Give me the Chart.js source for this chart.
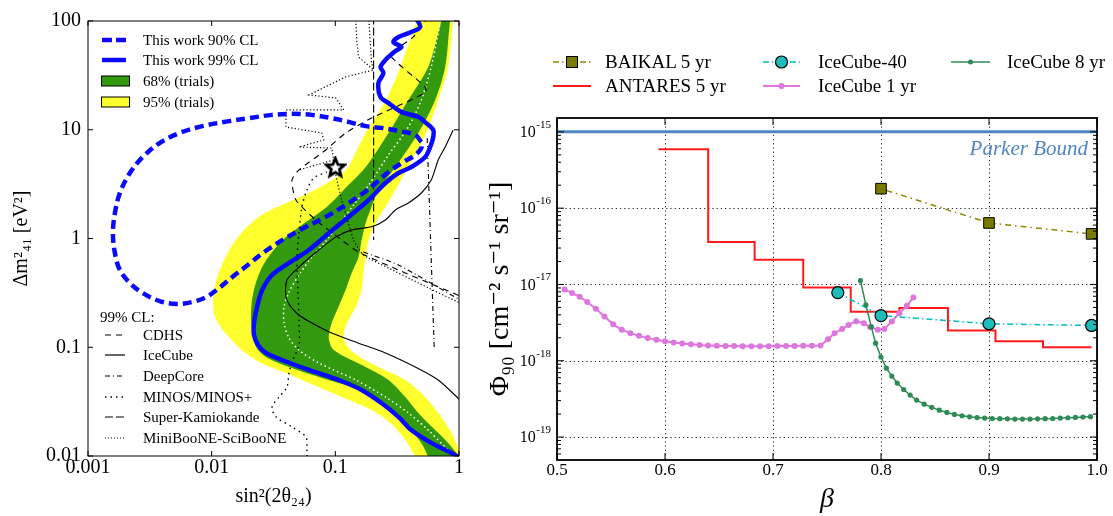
<!DOCTYPE html>
<html>
<head>
<meta charset="utf-8">
<title>Sterile neutrino contours and monopole flux limits</title>
<script src="https://cdn.jsdelivr.net/npm/chart.js@4.4.1/dist/chart.umd.min.js"></script>
<style>
    html, body { margin: 0; padding: 0; background: #fff; }
    #page { position: relative; width: 1113px; height: 516px; overflow: hidden;
            font-family: "Liberation Serif", "DejaVu Serif", serif; color: #000; }
    #page canvas { position: absolute; top: 0; }
    .item { position: absolute; display: flex; align-items: center; white-space: nowrap; }
    .item svg { flex: none; }
    .left-lg { font-size: 15px; height: 20px; }
    .right-lg { font-size: 19px; height: 24px; }
    #parker { position: absolute; right: 25px; top: 134px; font-size: 21px; font-style: italic;
              color: #4f86c6; line-height: 28px; }
</style>
</head>
<body>
<div id="page">
    <canvas id="contours" width="470" height="516" style="left:0"></canvas>
    <canvas id="limits" width="638" height="516" style="left:475px"></canvas>

    <!-- Legenda superior (painel esquerdo) -->
    <div class="item left-lg" style="left:100px; top:30px">
        <svg width="43" height="20"><line x1="2" y1="10" x2="26" y2="10" stroke="#0a0aff" stroke-width="4.5" stroke-dasharray="10 4"/></svg>This work 90% CL
    </div>
    <div class="item left-lg" style="left:100px; top:50px">
        <svg width="43" height="20"><line x1="2" y1="10" x2="26" y2="10" stroke="#0a0aff" stroke-width="4.5"/></svg>This work 99% CL
    </div>
    <div class="item left-lg" style="left:100px; top:71px">
        <svg width="43" height="20"><rect x="1.5" y="5" width="28" height="10" fill="#33990f" stroke="#000" stroke-width="1"/></svg>68% (trials)
    </div>
    <div class="item left-lg" style="left:100px; top:92px">
        <svg width="43" height="20"><rect x="1.5" y="5" width="28" height="10" fill="#ffff2e" stroke="#000" stroke-width="1"/></svg>95% (trials)
    </div>

    <!-- Legenda inferior (99% CL) -->
    <div class="item left-lg" style="left:100px; top:307px">99% CL:</div>
    <div class="item left-lg" style="left:100px; top:325px">
        <svg width="43" height="20"><line x1="5" y1="10" x2="25" y2="10" stroke="#000" stroke-width="1.2" stroke-dasharray="6 5"/></svg>CDHS
    </div>
    <div class="item left-lg" style="left:100px; top:345px">
        <svg width="43" height="20"><line x1="5" y1="10" x2="25" y2="10" stroke="#000" stroke-width="1.2"/></svg>IceCube
    </div>
    <div class="item left-lg" style="left:100px; top:366px">
        <svg width="43" height="20"><line x1="5" y1="10" x2="25" y2="10" stroke="#000" stroke-width="1.2" stroke-dasharray="5 3 1 3"/></svg>DeepCore
    </div>
    <div class="item left-lg" style="left:100px; top:387px">
        <svg width="43" height="20"><line x1="5" y1="10" x2="25" y2="10" stroke="#000" stroke-width="1.3" stroke-dasharray="1.5 4"/></svg>MINOS/MINOS+
    </div>
    <div class="item left-lg" style="left:100px; top:407px">
        <svg width="43" height="20"><line x1="5" y1="10" x2="25" y2="10" stroke="#000" stroke-width="1.2" stroke-dasharray="8 3"/></svg>Super-Kamiokande
    </div>
    <div class="item left-lg" style="left:100px; top:428px">
        <svg width="43" height="20"><line x1="5" y1="10" x2="25" y2="10" stroke="#000" stroke-width="1.2" stroke-dasharray="1 2"/></svg>MiniBooNE-SciBooNE
    </div>

    <!-- Legenda do painel direito -->
    <div class="item right-lg" style="left:553px; top:50px">
        <svg width="52" height="24"><line x1="0" y1="12" x2="38" y2="12" stroke="#8b8b00" stroke-width="1.5" stroke-dasharray="6 3 1.5 3"/><rect x="13.5" y="6.5" width="11" height="11" fill="#7a7a00" stroke="#000" stroke-width="1"/></svg>BAIKAL 5 yr
    </div>
    <div class="item right-lg" style="left:763px; top:50px">
        <svg width="55" height="24"><line x1="0" y1="12" x2="37" y2="12" stroke="#00bfbf" stroke-width="1.5" stroke-dasharray="6 3 1.5 3"/><circle cx="18.5" cy="12" r="6" fill="#1fbcbc" stroke="#000" stroke-width="1.2"/></svg>IceCube-40
    </div>
    <div class="item right-lg" style="left:951px; top:50px">
        <svg width="56" height="24"><line x1="0" y1="12" x2="39" y2="12" stroke="#2e8b57" stroke-width="1.5"/><circle cx="19.5" cy="12" r="2.5" fill="#2e8b57"/></svg>IceCube 8 yr
    </div>
    <div class="item right-lg" style="left:553px; top:74px">
        <svg width="52" height="24"><line x1="0" y1="12" x2="38" y2="12" stroke="#ff1a1a" stroke-width="2"/></svg>ANTARES 5 yr
    </div>
    <div class="item right-lg" style="left:763px; top:74px">
        <svg width="55" height="24"><line x1="0" y1="12" x2="37" y2="12" stroke="#dd77dd" stroke-width="2"/><circle cx="18.5" cy="12" r="3" fill="#dd77dd"/></svg>IceCube 1 yr
    </div>

    <div id="parker">Parker Bound</div>
</div>

<script>
// ---------- Dados: painel esquerdo (sin²2θ24 x Δm²41) ----------
const sinTicks = [0.001, 0.01, 0.1, 1];
const sinTickLabels = ['0.001', '0.01', '0.1', '1'];
const dmTicks = [0.01, 0.1, 1, 10, 100];
const dmTickLabels = ['0.01', '0.1', '1', '10', '100'];

// banda 95% (borda esquerda de baixo p/ cima, depois borda direita de cima p/ baixo)
const yellowX = [0.460, 0.443, 0.368, 0.279, 0.196, 0.1125, 0.0611, 0.0399, 0.0251, 0.0183, 0.0144, 0.0120, 0.0105, 0.0103, 0.0109, 0.0124,
    0.0147, 0.0183, 0.0251, 0.0385, 0.0611, 0.0885, 0.117, 0.133, 0.149, 0.176, 0.223, 0.269, 0.324, 0.389, 0.452, 0.469,
    0.948, 0.897, 0.817, 0.679, 0.543, 0.389, 0.306, 0.254, 0.211, 0.186, 0.176, 0.169, 0.163, 0.146, 0.128, 0.117, 0.121,
    0.141, 0.223, 0.368, 0.533, 0.679, 0.847, 0.948, 1.04, 1.07];
const yellowY = [0.0088, 0.0098, 0.0140, 0.0201, 0.0265, 0.0349, 0.0469, 0.0580, 0.0717, 0.0904, 0.117, 0.150, 0.198, 0.272, 0.415, 0.608,
    0.872, 1.20, 1.64, 2.08, 2.62, 3.31, 4.09, 4.94, 6.51, 9.33, 14.3, 20.9, 33.9, 60.1, 100, 121,
    121, 100, 37.8, 18.8, 9.33, 4.54, 2.79, 1.95, 1.39, 0.968, 0.676, 0.482, 0.336, 0.235, 0.178, 0.135, 0.109,
    0.0886, 0.0658, 0.0500, 0.0349, 0.0249, 0.0173, 0.0132, 0.0100, 0.0088];

// banda 68%
const greenX = [0.585, 0.564, 0.496, 0.389, 0.284, 0.211, 0.1355, 0.0735, 0.0422, 0.0275, 0.0229, 0.0212, 0.0208, 0.0212, 0.0225, 0.0256,
    0.0308, 0.0399, 0.0578, 0.0853, 0.121, 0.176, 0.269, 0.389, 0.564, 0.679, 0.718, 0.731,
    0.880, 0.847, 0.773, 0.642, 0.469, 0.306, 0.223, 0.196, 0.176, 0.163, 0.154, 0.1355, 0.121, 0.106, 0.0935, 0.0885,
    0.097, 0.176, 0.269, 0.368, 0.469, 0.642, 0.817, 0.948, 1.07];
const greenY = [0.0088, 0.0098, 0.0132, 0.0185, 0.0265, 0.0349, 0.0431, 0.0533, 0.0658, 0.0814, 0.1005, 0.144, 0.198, 0.272, 0.374, 0.547,
    0.751, 1.03, 1.42, 1.95, 2.91, 4.54, 9.33, 18.8, 37.8, 77.6, 100, 121,
    121, 100, 37.8, 18.8, 9.33, 4.54, 2.79, 1.95, 1.39, 0.968, 0.676, 0.482, 0.336, 0.235, 0.167, 0.122,
    0.0944, 0.0658, 0.0500, 0.0349, 0.0249, 0.0173, 0.0132, 0.0107, 0.0088];

// mediana (pontilhado branco)
const medianX = [0.984, 0.773, 0.564, 0.389, 0.254, 0.146, 0.0735, 0.0508, 0.0422, 0.0385, 0.0385, 0.0422, 0.0508, 0.0646, 0.0853, 0.1105,
    0.1406, 0.186, 0.269, 0.389, 0.496, 0.596, 0.679, 0.718];
const medianY = [0.0096, 0.0121, 0.0173, 0.0249, 0.0349, 0.0500, 0.0717, 0.0944, 0.1216, 0.167, 0.235, 0.322, 0.462, 0.676, 0.968, 1.42,
    2.03, 3.10, 5.86, 10.6, 18.8, 37.8, 77.6, 109];

// este trabalho 99% CL
const cl99X = [0.443, 0.486, 0.412, 0.324, 0.295, 0.342, 0.306, 0.254, 0.232, 0.245, 0.223, 0.232, 0.269, 0.342, 0.469, 0.543, 0.619,
    0.619, 0.585, 0.533, 0.412, 0.324, 0.254, 0.186, 0.128, 0.0885, 0.0611, 0.0422, 0.0308, 0.0256, 0.0233, 0.0220, 0.0220,
    0.0237, 0.0275, 0.0371, 0.0611, 0.1064, 0.163, 0.236, 0.324, 0.412, 0.596, 0.863, 1.04];
const cl99Y = [109, 88.1, 79.3, 71.3, 64.1, 57.7, 52.9, 43.8, 37.8, 33.2, 26.9, 20.0, 17.6, 14.6, 13.1, 11.5, 9.95,
    8.58, 6.94, 5.61, 4.54, 4.00, 3.24, 2.26, 1.58, 1.12, 0.784, 0.596, 0.462, 0.336, 0.235, 0.167, 0.130,
    0.105, 0.0886, 0.0763, 0.0618, 0.0500, 0.0405, 0.0307, 0.0229, 0.0173, 0.0132, 0.0107, 0.0094];

// este trabalho 90% CL (contorno fechado)
const cl90X = [0.496, 0.443, 0.324, 0.236, 0.176, 0.128, 0.0935, 0.0646, 0.0446, 0.0308, 0.0201, 0.0139, 0.00841, 0.0055, 0.00379,
    0.00277, 0.00218, 0.00181, 0.00165, 0.00159, 0.00165, 0.00181, 0.00218, 0.00277, 0.00379, 0.0052, 0.0070, 0.00907, 0.0115,
    0.0147, 0.0201, 0.0266, 0.0385, 0.0557, 0.0837, 0.121, 0.160, 0.204, 0.269, 0.355, 0.443, 0.496, 0.496];
const cl90Y = [7.71, 8.95, 9.74, 10.4, 10.8, 11.8, 12.8, 13.7, 14.0, 13.7, 12.8, 12.0, 10.8, 9.33, 7.55,
    5.61, 4.00, 2.62, 1.71, 1.12, 0.736, 0.513, 0.390, 0.315, 0.266, 0.250, 0.261, 0.290, 0.351,
    0.443, 0.583, 0.751, 0.989, 1.25, 1.58, 2.03, 2.51, 3.10, 4.09, 5.05, 5.86, 6.79, 7.71];

// outros experimentos (99% CL)
const icecubeX = [0.897, 0.773, 0.679, 0.596, 0.496, 0.389, 0.306, 0.254, 0.196, 0.1355, 0.1007, 0.0735, 0.0508, 0.0406, 0.0399,
    0.0438, 0.0508, 0.0646, 0.0935, 0.154, 0.254, 0.443, 0.679, 1.02];
const icecubeY = [9.95, 6.94, 5.27, 3.45, 2.62, 2.12, 1.83, 1.48, 1.28, 1.20, 1.03, 0.784, 0.547, 0.415, 0.290,
    0.235, 0.198, 0.167, 0.135, 0.109, 0.0886, 0.0658, 0.0500, 0.0327];
const minosX = [0.0589, 0.0589, 0.0578, 0.0446, 0.0331, 0.0308, 0.0351, 0.0406, 0.0422, 0.0454, 0.0508, 0.0508, 0.0498, 0.0489,
    0.0508, 0.0537, 0.0589, 0.0670, 0.0853];
const minosY = [0.0088, 0.0121, 0.0150, 0.0185, 0.0229, 0.0282, 0.0349, 0.0431, 0.0580, 0.0763, 0.105, 0.178, 0.336, 0.634,
    1.12, 1.95, 2.79, 3.60, 4.09];
const minibooneX = [0.146, 0.149, 0.154, 0.204, 0.121, 0.0611, 0.1007, 0.117, 0.0399, 0.0399, 0.0777, 0.0807, 0.0508, 0.0935, 0.097, 0.0508];
const minibooneY = [109, 66.8, 46.7, 35.4, 30.6, 20.9, 19.6, 15.2, 15.2, 10.6, 9.33, 8.05, 6.94, 6.79, 5.27, 4.27];
const miniboone2X = [0.186, 0.196, 0.204];
const miniboone2Y = [109, 42.0, 35.4];
const miniboone3X = [0.1007, 0.1125, 0.1236, 0.1406, 0.169, 0.269, 0.469, 1.02];
const miniboone3Y = [3.83, 2.26, 1.58, 0.968, 0.705, 0.536, 0.390, 0.255];
const cdhsX = [0.564, 0.427, 0.306, 0.284, 0.533, 0.533, 0.196, 0.121, 0.0837, 0.0508, 0.0446, 0.048, 0.0695, 0.1125, 0.154, 0.324, 1.02];
const cdhsY = [109, 71.3, 54.1, 46.7, 24.7, 21.8, 12.8, 9.33, 6.51, 4.27, 3.45, 2.26, 1.48, 0.968, 0.751, 0.513, 0.296];
const superkX = [0.204, 0.204];
const superkY = [110, 0.968];
const deepcoreX = [0.553, 0.631];
const deepcoreY = [8.39, 0.0944];
const deepcore2X = [0.169, 0.324, 1.02];
const deepcore2Y = [0.751, 0.571, 0.272];
const bestFitX = [0.1];
const bestFitY = [4.45];

// ---------- Dados: painel direito (β x Φ90) ----------
const betaTicks = [0.5, 0.6, 0.7, 0.8, 0.9, 1.0];
const betaTickLabels = ['0.5', '0.6', '0.7', '0.8', '0.9', '1.0'];
const fluxTicks = [1e-19, 1e-18, 1e-17, 1e-16, 1e-15];
const fluxTickExp = ['-19', '-18', '-17', '-16', '-15'];

const parkerBeta = [0.5, 1.0];
const parkerFlux = [1e-15, 1e-15];
const baikalBeta = [0.8, 0.9, 0.995];
const baikalFlux = [1.8e-16, 6.4e-17, 4.6e-17];
const ic40Beta = [0.76, 0.8, 0.9, 0.995];
const ic40Flux = [7.8e-18, 3.9e-18, 3.05e-18, 2.9e-18];
const antaresBeta = [0.594, 0.640, 0.683, 0.728, 0.772, 0.817, 0.862, 0.906, 0.950, 0.995];
const antaresFlux = [5.9e-16, 3.6e-17, 2.1e-17, 9.1e-18, 4.4e-18, 4.9e-18, 2.5e-18, 1.8e-18, 1.5e-18, 1.5e-18];
const ic1Beta = [0.507, 0.514, 0.521, 0.528, 0.536, 0.544, 0.552, 0.560, 0.568, 0.576, 0.584, 0.592, 0.600, 0.608, 0.616,
    0.624, 0.632, 0.640, 0.648, 0.656, 0.664, 0.672, 0.680, 0.688, 0.696, 0.704, 0.712, 0.720, 0.728, 0.736, 0.744,
    0.751, 0.757, 0.764, 0.770, 0.777, 0.784, 0.790, 0.797, 0.803, 0.810, 0.817, 0.824, 0.830];
const ic1Flux = [8.6e-18, 7.7e-18, 6.9e-18, 5.9e-18, 4.8e-18, 3.8e-18, 3.0e-18, 2.55e-18, 2.3e-18, 2.12e-18, 1.98e-18, 1.88e-18,
    1.80e-18, 1.73e-18, 1.68e-18, 1.64e-18, 1.61e-18, 1.59e-18, 1.57e-18, 1.56e-18, 1.56e-18, 1.55e-18, 1.55e-18, 1.55e-18,
    1.55e-18, 1.56e-18, 1.56e-18, 1.56e-18, 1.57e-18, 1.57e-18, 1.58e-18, 1.92e-18, 2.3e-18, 2.6e-18, 2.95e-18, 3.3e-18,
    3.1e-18, 2.75e-18, 2.55e-18, 2.6e-18, 3.27e-18, 4.2e-18, 5.25e-18, 6.75e-18];
const ic8Beta = [0.781, 0.786, 0.791, 0.795, 0.800, 0.805, 0.810, 0.815, 0.821, 0.827, 0.833, 0.840, 0.847, 0.854, 0.861, 0.868,
    0.875, 0.882, 0.889, 0.896, 0.903, 0.910, 0.917, 0.924, 0.931, 0.938, 0.945, 0.952, 0.959, 0.966, 0.973, 0.980, 0.987, 0.994];
const ic8Flux = [1.12e-17, 5.4e-18, 2.8e-18, 1.7e-18, 1.12e-18, 8.0e-19, 6.3e-19, 5.1e-19, 4.2e-19, 3.55e-19, 3.05e-19, 2.7e-19,
    2.45e-19, 2.25e-19, 2.1e-19, 1.98e-19, 1.9e-19, 1.84e-19, 1.8e-19, 1.77e-19, 1.75e-19, 1.74e-19, 1.73e-19, 1.72e-19,
    1.72e-19, 1.72e-19, 1.73e-19, 1.74e-19, 1.75e-19, 1.77e-19, 1.79e-19, 1.81e-19, 1.83e-19, 1.85e-19];

const SERIF = '"Liberation Serif", "DejaVu Serif", serif';
const BLUE = '#0a0aff';
const GREEN = '#33990f';
const YELLOW = '#ffff2e';

const pts = (xs, ys) => xs.map((x, i) => ({ x, y: ys[i] }));

function curve(label, xs, ys, color, width, dash, order, extra) {
    return Object.assign({
        label, data: pts(xs, ys), showLine: true, borderColor: color, borderWidth: width,
        borderDash: dash, pointRadius: 0, fill: false, tension: 0, order
    }, extra || {});
}

// estrela do melhor ajuste
function starImage(size) {
    const c = document.createElement('canvas');
    c.width = c.height = size;
    const g = c.getContext('2d');
    const R = size / 2 - 2, r = R * 0.45;
    g.beginPath();
    for (let i = 0; i < 10; i++) {
        const ang = -Math.PI / 2 + i * Math.PI / 5;
        const rad = i % 2 ? r : R;
        g.lineTo(size / 2 + rad * Math.cos(ang), size / 2 + rad * Math.sin(ang));
    }
    g.closePath();
    g.fillStyle = '#fff';
    g.fill();
    g.lineWidth = 2.8;
    g.strokeStyle = '#000';
    g.stroke();
    return c;
}

// moldura + ticks internos
const frameTicks = {
    id: 'frameTicks',
    afterDatasetsDraw(chart, args, o) {
        const { ctx, chartArea: a } = chart;
        const xs = chart.scales.x, ys = chart.scales.y;
        ctx.save();
        ctx.strokeStyle = '#000';
        ctx.lineWidth = 1;
        ctx.beginPath();
        o.xMajor.forEach(v => {
            const p = xs.getPixelForValue(v);
            ctx.moveTo(p, a.bottom); ctx.lineTo(p, a.bottom - o.len);
            ctx.moveTo(p, a.top); ctx.lineTo(p, a.top + o.len);
        });
        o.yMajor.forEach(v => {
            const p = ys.getPixelForValue(v);
            ctx.moveTo(a.left, p); ctx.lineTo(a.left + o.len, p);
            ctx.moveTo(a.right, p); ctx.lineTo(a.right - o.len, p);
        });
        (o.yMinor || []).forEach(v => {
            const p = ys.getPixelForValue(v);
            ctx.moveTo(a.left, p); ctx.lineTo(a.left + o.minorLen, p);
            ctx.moveTo(a.right, p); ctx.lineTo(a.right - o.minorLen, p);
        });
        ctx.stroke();
        ctx.lineWidth = o.frame;
        ctx.strokeRect(a.left, a.top, a.right - a.left, a.bottom - a.top);
        ctx.restore();
    }
};

// grade pontilhada
const dottedGrid = {
    id: 'dottedGrid',
    beforeDatasetsDraw(chart, args, o) {
        const { ctx, chartArea: a } = chart;
        const xs = chart.scales.x, ys = chart.scales.y;
        ctx.save();
        ctx.strokeStyle = '#222';
        ctx.lineWidth = 1;
        ctx.setLineDash([1.2, 3]);
        ctx.beginPath();
        o.x.forEach(v => { const p = Math.round(xs.getPixelForValue(v)) + 0.5; ctx.moveTo(p, a.top); ctx.lineTo(p, a.bottom); });
        o.y.forEach(v => { const p = Math.round(ys.getPixelForValue(v)) + 0.5; ctx.moveTo(a.left, p); ctx.lineTo(a.right, p); });
        ctx.stroke();
        ctx.restore();
    }
};

// rótulos 10^n do eixo y
const powerLabels = {
    id: 'powerLabels',
    afterDraw(chart, args, o) {
        const { ctx, chartArea: a } = chart;
        const ys = chart.scales.y;
        ctx.save();
        ctx.fillStyle = '#000';
        ctx.textBaseline = 'middle';
        o.values.forEach((v, i) => {
            const py = ys.getPixelForValue(v);
            const xEnd = a.left - 6;
            ctx.font = '11px ' + SERIF;
            const ws = ctx.measureText(o.exps[i]).width;
            ctx.textAlign = 'left';
            ctx.fillText(o.exps[i], xEnd - ws, py - 7);
            ctx.font = '16px ' + SERIF;
            ctx.textAlign = 'right';
            ctx.fillText('10', xEnd - ws - 0.5, py + 1);
        });
        ctx.restore();
    }
};

// Gráfico esquerdo
const contoursCtx = document.getElementById('contours').getContext('2d');
new Chart(contoursCtx, {
    type: 'scatter',
    data: {
        datasets: [
            { label: 'Best fit', data: pts(bestFitX, bestFitY), pointStyle: starImage(23), pointRadius: 10, order: 0 },
            curve('This work 90% CL', cl90X, cl90Y, BLUE, 4.5, [9, 5], 1, { tension: 0.35 }),
            curve('This work 99% CL', cl99X, cl99Y, BLUE, 4.5, [], 2, { tension: 0.3 }),
            curve('CDHS', cdhsX, cdhsY, '#000', 1.1, [6, 5], 3, { tension: 0.2 }),
            curve('IceCube', icecubeX, icecubeY, '#000', 1.1, [], 3, { tension: 0.25 }),
            curve('DeepCore', deepcoreX, deepcoreY, '#000', 1.1, [5, 3, 1, 3], 3),
            curve('DeepCore', deepcore2X, deepcore2Y, '#000', 1.1, [5, 3, 1, 3], 3, { tension: 0.2 }),
            curve('MINOS/MINOS+', minosX, minosY, '#000', 1.4, [1.5, 4], 3, { tension: 0.3 }),
            curve('Super-Kamiokande', superkX, superkY, '#000', 1.1, [8, 3], 3),
            curve('MiniBooNE-SciBooNE', minibooneX, minibooneY, '#000', 1.2, [1.2, 2.2], 3),
            curve('MiniBooNE-SciBooNE', miniboone2X, miniboone2Y, '#000', 1.2, [1.2, 2.2], 3),
            curve('MiniBooNE-SciBooNE', miniboone3X, miniboone3Y, '#000', 1.2, [1.2, 2.2], 3, { tension: 0.2 }),
            curve('Median', medianX, medianY, '#fff', 1.5, [1.5, 3], 4, { tension: 0.3 }),
            curve('68% (trials)', greenX, greenY, GREEN, 0, [], 8, { fill: 'shape', backgroundColor: GREEN, tension: 0.3 }),
            curve('95% (trials)', yellowX, yellowY, YELLOW, 0, [], 9, { fill: 'shape', backgroundColor: YELLOW, tension: 0.3 })
        ]
    },
    options: {
        responsive: false,
        animation: false,
        events: [],
        layout: { padding: { top: 21, right: 9, left: 0, bottom: 0 } },
        plugins: {
            legend: { display: false },
            tooltip: { enabled: false },
            frameTicks: { xMajor: sinTicks, yMajor: dmTicks, len: 5, frame: 1 }
        },
        scales: {
            x: {
                type: 'logarithmic', min: 0.001, max: 1,
                afterBuildTicks: s => { s.ticks = sinTicks.map(v => ({ value: v })); },
                afterFit: s => { s.height = 60; },
                grid: { display: false, drawTicks: false },
                border: { display: false },
                ticks: { autoSkip: false, maxRotation: 0, padding: 0, color: '#000', font: { family: SERIF, size: 20 },
                         callback: (v, i) => sinTickLabels[i] },
                title: { display: true, text: 'sin²(2θ₂₄)', color: '#000', font: { family: SERIF, size: 20 }, padding: { bottom: 7 } }
            },
            y: {
                type: 'logarithmic', min: 0.01, max: 100,
                afterBuildTicks: s => { s.ticks = dmTicks.map(v => ({ value: v })); },
                afterFit: s => { s.width = 88; },
                grid: { display: false, drawTicks: false },
                border: { display: false },
                ticks: { autoSkip: false, padding: 7, color: '#000', font: { family: SERIF, size: 20 },
                         callback: (v, i) => dmTickLabels[i] },
                title: { display: true, text: 'Δm²₄₁ [eV²]', color: '#000', font: { family: SERIF, size: 20 }, padding: { top: 10 } }
            }
        }
    },
    plugins: [frameTicks]
});

// Gráfico direito
const fluxMinor = [];
fluxTicks.concat([1e-20]).forEach(d => {
    for (let m = 2; m <= 9; m++) {
        const v = m * d;
        if (v > 5e-20 && v < 1.52e-15) fluxMinor.push(v);
    }
});

const limitsCtx = document.getElementById('limits').getContext('2d');
new Chart(limitsCtx, {
    type: 'scatter',
    data: {
        datasets: [
            curve('IceCube 8 yr', ic8Beta, ic8Flux, '#2e8b57', 1.5, [], 0,
                  { pointRadius: 2.6, pointBackgroundColor: '#2e8b57', pointBorderWidth: 0 }),
            curve('IceCube-40', ic40Beta, ic40Flux, '#00bfbf', 1.5, [6, 3, 1.5, 3], 1,
                  { pointRadius: 6, pointBackgroundColor: '#1fbcbc', pointBorderColor: '#000', pointBorderWidth: 1.2 }),
            curve('IceCube 1 yr', ic1Beta, ic1Flux, '#dd77dd', 2, [], 2,
                  { pointRadius: 3, pointBackgroundColor: '#dd77dd', pointBorderWidth: 0 }),
            curve('ANTARES 5 yr', antaresBeta, antaresFlux, '#ff1a1a', 2, [], 3, { stepped: 'before' }),
            curve('BAIKAL 5 yr', baikalBeta, baikalFlux, '#8b8b00', 1.5, [1.5, 4, 6, 4], 4,
                  { pointRadius: 7.5, pointStyle: 'rect', pointBackgroundColor: '#7a7a00', pointBorderColor: '#000', pointBorderWidth: 1 }),
            curve('Parker Bound', parkerBeta, parkerFlux, '#4f86c6', 3, [], 5)
        ]
    },
    options: {
        responsive: false,
        animation: false,
        events: [],
        layout: { padding: { top: 118, right: 16, left: 0, bottom: 0 } },
        plugins: {
            legend: { display: false },
            tooltip: { enabled: false },
            dottedGrid: { x: betaTicks, y: fluxTicks },
            frameTicks: { xMajor: betaTicks, yMajor: fluxTicks, yMinor: fluxMinor, len: 7, minorLen: 4, frame: 1.8 },
            powerLabels: { values: fluxTicks, exps: fluxTickExp }
        },
        scales: {
            x: {
                type: 'linear', min: 0.5, max: 1.0,
                afterBuildTicks: s => { s.ticks = betaTicks.map(v => ({ value: v })); },
                afterFit: s => { s.height = 56; },
                grid: { display: false, drawTicks: false },
                border: { display: false },
                ticks: { autoSkip: false, maxRotation: 0, padding: 0, color: '#000', font: { family: SERIF, size: 17 },
                         callback: (v, i) => betaTickLabels[i] },
                title: { display: true, text: 'β', color: '#000', font: { family: SERIF, size: 28, style: 'italic' }, padding: { bottom: 0 } }
            },
            y: {
                type: 'logarithmic', min: 5e-20, max: 1.52e-15,
                afterBuildTicks: s => { s.ticks = fluxTicks.map(v => ({ value: v })); },
                afterFit: s => { s.width = 82; },
                grid: { display: false, drawTicks: false },
                border: { display: false },
                ticks: { display: false },
                title: { display: true, text: 'Φ₉₀ [cm⁻² s⁻¹ sr⁻¹]', color: '#000', font: { family: SERIF, size: 28 }, padding: { top: 9 } }
            }
        }
    },
    plugins: [dottedGrid, frameTicks, powerLabels]
});
</script>
</body>
</html>
